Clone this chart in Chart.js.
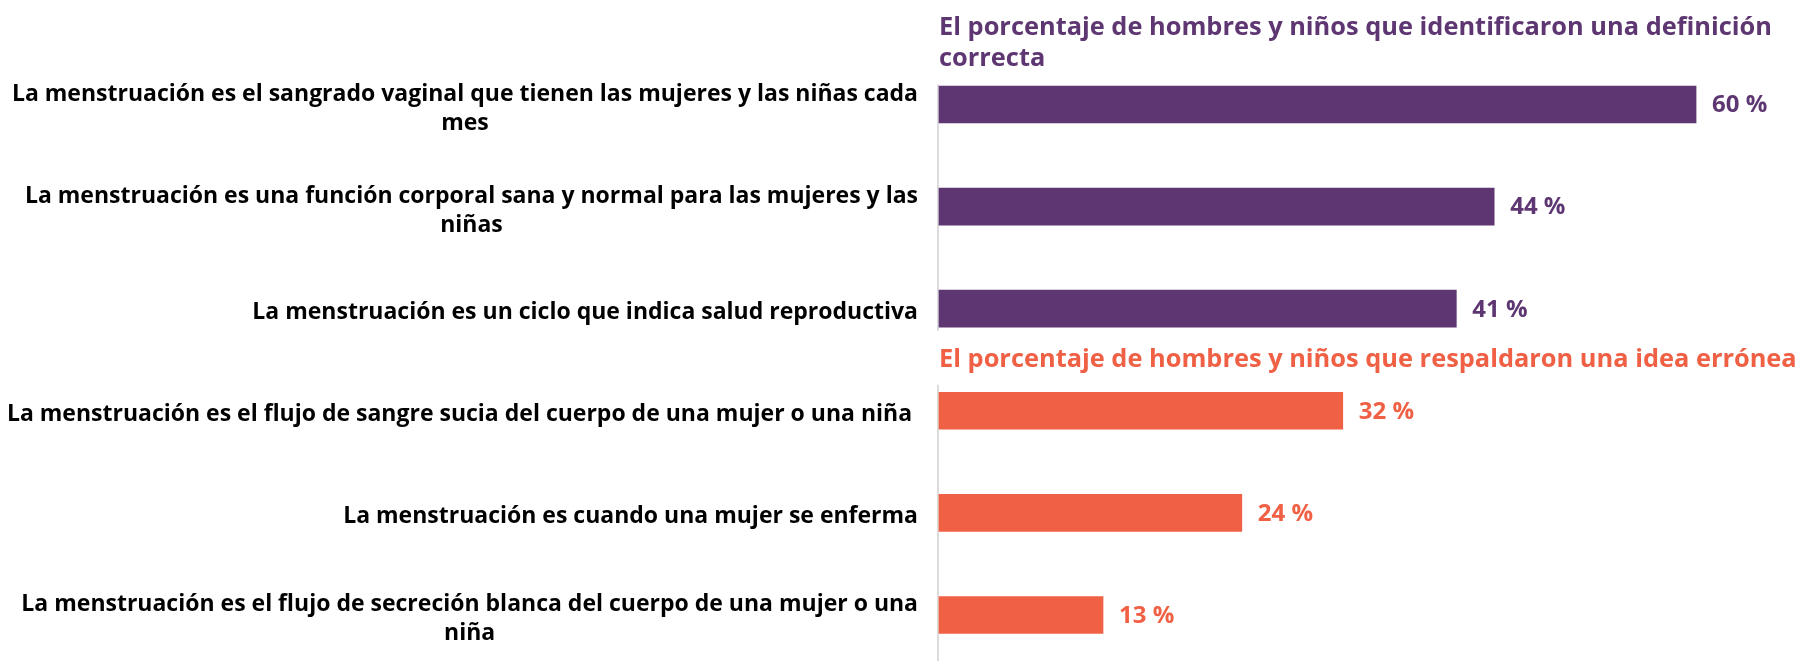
<!DOCTYPE html>
<html lang="es">
<head>
<meta charset="utf-8">
<title>Menstruación</title>
<script src="https://cdn.jsdelivr.net/npm/chart.js@4.4.1/dist/chart.umd.min.js"></script>
<style>
    html, body { margin: 0; padding: 0; background: #fff; }
    #chartBox { position: relative; width: 1805px; height: 661px; }
</style>
</head>
<body>
<div id="chartBox"><canvas id="menstruationChart"></canvas></div>
<script>
const correctTitle = ['El porcentaje de hombres y niños que identificaron una definición', 'correcta'];
const wrongTitle = 'El porcentaje de hombres y niños que respaldaron una idea errónea';

const correctLabels = [
    ['La menstruación es el sangrado vaginal que tienen las mujeres y las niñas cada', 'mes'],
    ['La menstruación es una función corporal sana y normal para las mujeres y las', 'niñas'],
    ['La menstruación es un ciclo que indica salud reproductiva']
];
const wrongLabels = [
    ['La menstruación es el flujo de sangre sucia del cuerpo de una mujer o una niña '],
    ['La menstruación es cuando una mujer se enferma'],
    ['La menstruación es el flujo de secreción blanca del cuerpo de una mujer o una', 'niña']
];

const correctValues = [60, 44, 41];
const wrongValues = [32, 24, 13];

const PURPLE = '#5e3772';
const ORANGE = '#f06045';
const FONT = "'Open Sans', 'Liberation Sans', sans-serif";

document.addEventListener('DOMContentLoaded', () => {
    const labels = correctLabels.concat(wrongLabels);
    const values = correctValues.concat(wrongValues);
    const colors = values.map((v, i) => i < correctValues.length ? PURPLE : ORANGE);

    const sectionsPlugin = {
        id: 'sections',
        beforeDatasetsDraw(chart) {
            const ctx = chart.ctx;
            const y = chart.scales.y;
            const x0 = chart.chartArea.left - 1;
            const lastTop = y.getPixelForTick(correctValues.length - 1);
            const firstBottom = y.getPixelForTick(correctValues.length);

            ctx.save();
            ctx.strokeStyle = '#dcdcdc';
            ctx.lineWidth = 2;
            ctx.beginPath();
            ctx.moveTo(x0, y.getPixelForTick(0) - 20);
            ctx.lineTo(x0, lastTop + 22);
            ctx.moveTo(x0, firstBottom - 26);
            ctx.lineTo(x0, chart.height);
            ctx.stroke();
            ctx.restore();
        },
        afterDatasetsDraw(chart) {
            const ctx = chart.ctx;
            const y = chart.scales.y;
            const meta = chart.getDatasetMeta(0);

            ctx.save();
            ctx.textBaseline = 'middle';

            // value labels
            ctx.font = `bold 24px ${FONT}`;
            ctx.textAlign = 'left';
            meta.data.forEach((bar, i) => {
                ctx.fillStyle = colors[i];
                ctx.fillText(values[i] + ' %', bar.x + 16, bar.y + 1);
            });

            // category labels, lines centred inside a right-aligned block
            ctx.font = `bold 23px ${FONT}`;
            ctx.fillStyle = '#000';
            ctx.textAlign = 'center';
            const right = chart.chartArea.left - 21;
            const lineH = 29;
            labels.forEach((lines, i) => {
                const w = Math.max(...lines.map(l => ctx.measureText(l).width));
                const cx = right - w / 2;
                const cy = y.getPixelForTick(i);
                const top = cy - (lines.length - 1) * lineH / 2 + 4;
                lines.forEach((line, j) => ctx.fillText(line, cx, top + j * lineH));
            });

            // second section title
            const midY = (y.getPixelForTick(correctValues.length - 1) + y.getPixelForTick(correctValues.length)) / 2;
            ctx.font = `bold 25.4px ${FONT}`;
            ctx.textAlign = 'left';
            ctx.fillStyle = ORANGE;
            ctx.fillText(wrongTitle, chart.chartArea.left, midY);
            ctx.restore();
        }
    };

    const ctx = document.getElementById('menstruationChart').getContext('2d');
    new Chart(ctx, {
        type: 'bar',
        data: {
            labels: labels,
            datasets: [{
                data: values,
                backgroundColor: colors,
                barThickness: 37,
                clip: false
            }]
        },
        options: {
            indexAxis: 'y',
            responsive: true,
            maintainAspectRatio: false,
            animation: false,
            events: [],
            layout: {
                padding: { left: 0, right: 8, top: 0, bottom: 46 }
            },
            plugins: {
                legend: { display: false },
                tooltip: { enabled: false },
                title: {
                    display: true,
                    text: correctTitle,
                    align: 'start',
                    fullSize: false,
                    color: PURPLE,
                    font: { family: FONT, size: 25.4, weight: 'bold', lineHeight: 1.23 },
                    padding: { top: 12, bottom: 30 }
                }
            },
            scales: {
                x: {
                    display: false,
                    min: 0,
                    max: 68
                },
                y: {
                    offset: false,
                    grid: { display: false },
                    border: { display: false },
                    ticks: { display: false },
                    afterFit: (scale) => {
                        scale.width = 939;
                    }
                }
            }
        },
        plugins: [sectionsPlugin]
    });
});
</script>
</body>
</html>
